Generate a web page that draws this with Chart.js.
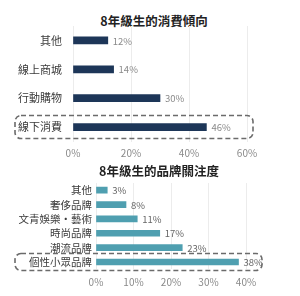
<!DOCTYPE html>
<html lang="zh-Hant">
<head>
<meta charset="UTF-8">
<title>8年級生的消費傾向 / 品牌關注度</title>
<script src="https://cdn.jsdelivr.net/npm/chart.js@4.4.1/dist/chart.umd.min.js"></script>
<style>
    html, body { margin: 0; padding: 0; background: #fff; }
    body { width: 300px; height: 296px; position: relative; overflow: hidden; font-family: "Noto Sans CJK TC", "Noto Sans", sans-serif; }
    .title { position: absolute; left: 0; width: 300px; text-align: center; font-weight: bold; color: #222; font-size: 12.5px; line-height: 16px; }
    .box { position: absolute; left: 0; width: 300px; }
</style>
</head>
<body>
<div class="title" style="top: 13px; padding-left: 8px; box-sizing: border-box;">8年級生的消費傾向</div>
<div class="box" style="top: 0; height: 162px;"><canvas id="spend"></canvas></div>
<div class="title" style="top: 163px; padding-left: 18px; box-sizing: border-box;">8年級生的品牌關注度</div>
<div class="box" style="top: 160px; height: 136px;"><canvas id="brand"></canvas></div>

<script>
    // consumption tendency
    const spendLabels = ['其他', '線上商城', '行動購物', '線下消費'];
    const spendValues = [12, 14, 30, 46];
    const spendTicks = [0, 20, 40, 60];

    // brand attention
    const brandLabels = ['其他', '奢侈品牌', '文青娛樂・藝術', '時尚品牌', '潮流品牌', '個性小眾品牌'];
    const brandValues = [3, 8, 11, 17, 23, 38];
    const brandTicks = [0, 10, 20, 30, 40];

    const FONT = '"Noto Sans CJK TC", "Noto Sans", sans-serif';

    const valueLabels = {
        id: 'valueLabels',
        afterDatasetsDraw(chart, args, opts) {
            const ctx = chart.ctx;
            const meta = chart.getDatasetMeta(0);
            ctx.save();
            ctx.font = opts.size + 'px ' + FONT;
            ctx.fillStyle = opts.color;
            ctx.textBaseline = 'middle';
            meta.data.forEach((bar, i) => {
                ctx.fillText(chart.data.datasets[0].data[i] + '%', bar.x + 5, bar.y + 0.5);
            });
            ctx.restore();
        }
    };

    // dashed rounded box around the highlighted (last) category
    const highlightBox = {
        id: 'highlightBox',
        afterDraw(chart, args, opts) {
            const ctx = chart.ctx;
            const y = chart.scales.y;
            const x = chart.scales.x;
            const cy = y.getPixelForValue(chart.data.labels.length - 1);
            const right = x.getPixelForValue(x.max) + opts.extraRight;
            ctx.save();
            ctx.strokeStyle = '#6b6b6b';
            ctx.lineWidth = 1.6;
            ctx.setLineDash([5, 3]);
            ctx.beginPath();
            ctx.roundRect(opts.left, cy - opts.half, right - opts.left, opts.half * 2, 6);
            ctx.stroke();
            ctx.restore();
        }
    };

    function makeChart(id, labels, values, ticks, cfg) {
        new Chart(document.getElementById(id), {
            type: 'bar',
            data: {
                labels,
                datasets: [{
                    data: values,
                    backgroundColor: cfg.color,
                    barThickness: cfg.barThickness,
                    borderWidth: 0
                }]
            },
            options: {
                indexAxis: 'y',
                responsive: true,
                maintainAspectRatio: false,
                animation: false,
                layout: { padding: { top: cfg.top, right: cfg.right, left: 0, bottom: 0 } },
                plugins: {
                    legend: { display: false },
                    tooltip: { enabled: false },
                    valueLabels: { color: cfg.valueColor, size: 9.5 },
                    highlightBox: { left: 15, half: cfg.boxHalf, extraRight: cfg.boxExtra }
                },
                scales: {
                    x: {
                        min: ticks[0],
                        max: ticks[ticks.length - 1],
                        afterBuildTicks(scale) { scale.ticks = ticks.map(v => ({ value: v })); },
                        afterFit(scale) { scale.height = cfg.xHeight; },
                        grid: { color: '#ececec', drawTicks: false },
                        border: { display: false },
                        ticks: {
                            padding: cfg.xPad,
                            color: '#8a8a8a',
                            font: { family: FONT, size: 10 },
                            callback: v => v + '%'
                        }
                    },
                    y: {
                        afterFit(scale) { scale.width = cfg.yWidth; },
                        grid: { display: false, drawTicks: false },
                        border: { display: false },
                        ticks: {
                            autoSkip: false,
                            padding: cfg.yPad,
                            color: '#3a3a3a',
                            font: { family: FONT, size: cfg.yFont }
                        }
                    }
                }
            },
            plugins: [valueLabels, highlightBox]
        });
    }

    makeChart('spend', spendLabels, spendValues, spendTicks, {
        color: '#1d3658', barThickness: 7, top: 26, right: 53,
        xHeight: 20.5, xPad: 6, yWidth: 73, yPad: 11, yFont: 11,
        valueColor: '#8a8a8a', boxHalf: 11.5, boxExtra: 6
    });

    makeChart('brand', brandLabels, brandValues, brandTicks, {
        color: '#4f9fb0', barThickness: 6, top: 23, right: 54,
        xHeight: 26.8, xPad: 7, yWidth: 96, yPad: 4, yFont: 10.5,
        valueColor: '#666666', boxHalf: 8.5, boxExtra: 16
    });
</script>
</body>
</html>
